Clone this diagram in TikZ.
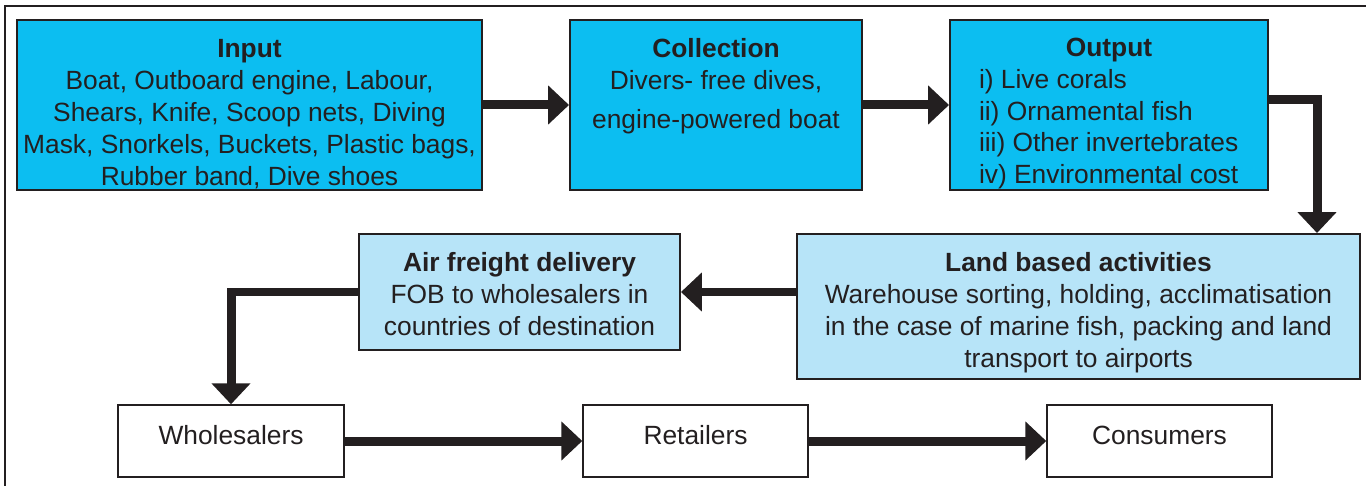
\documentclass[tikz,border=0pt]{standalone}
\usepackage{fontspec}
\setmainfont{Liberation Sans}
\usepackage{tikz}
\usetikzlibrary{arrows.meta}
\definecolor{inkline}{HTML}{231F20}
\definecolor{seablue}{HTML}{0CBEF1}
\definecolor{paleblue}{HTML}{B7E4F8}
\newcommand{\topgap}[1]{\rule{0pt}{#1}}
\newcommand{\outrow}[1]{\makebox[5.2cm][l]{#1}}

\begin{document}
\begin{tikzpicture}[x=0.02cm, y=-0.02cm]
    \tikzstyle{stage} = [rectangle, draw=inkline, line width=0.04cm, fill=seablue, text=inkline, align=center, inner sep=0pt]
    \tikzstyle{shore} = [stage, fill=paleblue]
    \tikzstyle{market} = [rectangle, draw=inkline, line width=0.03cm, fill=white, text=inkline, minimum width=4.5cm, minimum height=1.44cm, text depth=0.24cm]
    \tikzstyle{flow} = [-{Triangle[length=0.42cm, width=0.76cm]}, line width=0.18cm, draw=inkline]
    \fontsize{15}{18.2}\selectfont
    \useasboundingbox (0,0) rectangle (1366,486);
    \draw[line width=0.04cm, inkline] (5,490) -- (5,6) -- (1370,6);

    \node (input) [stage, minimum width=9.3cm, minimum height=3.4cm] at (249.5,105) {\topgap{0.71cm}\textbf{Input}\\Boat, Outboard engine, Labour,\\Shears, Knife, Scoop nets, Diving\\Mask, Snorkels, Buckets, Plastic bags,\\Rubber band, Dive shoes};
    \node (collect) [stage, minimum width=5.84cm, minimum height=3.4cm] at (716,105) {\textbf{Collection}\\Divers- free dives,\\[0.14cm]engine-powered boat\\[0.24cm]\mbox{}};
    \node (output) [stage, minimum width=6.36cm, minimum height=3.4cm] at (1109,105) {\topgap{0.71cm}\textbf{Output}\\\outrow{i) Live corals}\\\outrow{ii) Ornamental fish}\\\outrow{iii) Other invertebrates}\\\outrow{iv) Environmental cost}};
    \node (land) [shore, minimum width=11.26cm, minimum height=2.9cm] at (1078.5,306.5) {\topgap{0.63cm}\textbf{Land based activities}\\Warehouse sorting, holding, acclimatisation\\in the case of marine fish, packing and land\\transport to airports};
    \node (air) [shore, minimum width=6.42cm, minimum height=2.32cm] at (519.5,292) {\topgap{0.47cm}\textbf{Air freight delivery}\\FOB to wholesalers in\\countries of destination};
    \node (whole) [market, minimum width=4.52cm] at (231,441) {Wholesalers};
    \node (retail) [market] at (695.5,441) {Retailers};
    \node (consum) [market] at (1159.5,441) {Consumers};

    \coordinate (bendA) at (1317,100);
    \draw[flow] (input.east) -- (collect.west);
    \draw[flow] (collect.east) -- (output.west);
    \draw[flow] (output.east |- bendA) -- (bendA) -- (land.north -| bendA);
    \draw[flow] (land.west |- air.east) -- (air.east);
    \draw[flow] (air.west) -| (whole.north);
    \draw[flow] (whole.east) -- (retail.west);
    \draw[flow] (retail.east) -- (consum.west);
\end{tikzpicture}
\end{document}
